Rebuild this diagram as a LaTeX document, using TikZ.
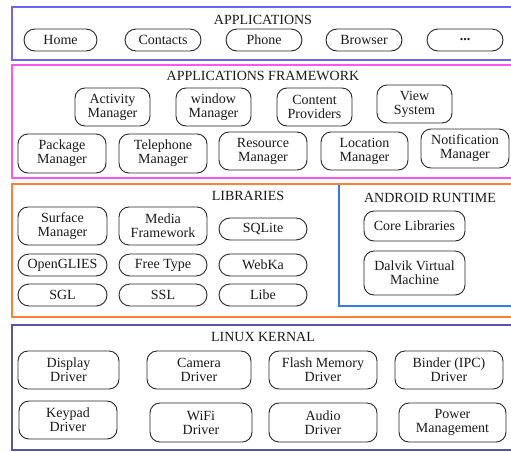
\documentclass[tikz,border=0pt]{standalone}
\usepackage{fontspec}
\setmainfont{Liberation Serif}
\definecolor{appblue}{HTML}{6666FF}
\definecolor{fwpink}{HTML}{FF55EE}
\definecolor{liborange}{HTML}{FF7F33}
\definecolor{rtblue}{HTML}{3377EE}
\definecolor{kernnavy}{HTML}{5555A0}
\tikzset{
  layer/.style={line width=1.4pt},
  mod/.style={draw=black!85, line width=0.9pt, rounded corners=10pt, align=center,
    inner sep=0pt, font=\fontsize{14}{14}\selectfont, text=black!90},
  pill/.style={mod, rounded corners=11pt, minimum height=22pt},
  ttl/.style={anchor=base, inner sep=0pt, font=\fontsize{14}{14}\selectfont, text=black!90}
}
\begin{document}
\begin{tikzpicture}[x=1pt,y=-1pt]
\useasboundingbox (0,0) rectangle (511,451);
% layers
\draw[layer, appblue] (12,7) rectangle (515,60);
\draw[layer, fwpink] (12,65) rectangle (515,178);
\draw[layer, rtblue] (339,184) rectangle (515,306);
\draw[layer, liborange] (12,184) rectangle (515,317);
\draw[layer, kernnavy] (12,325) rectangle (515,450);
% titles
\node[ttl] (tapp) at (263,24) {APPLICATIONS};
\node[ttl] (tfw) at (263,80) {APPLICATIONS FRAMEWORK};
\node[ttl] (tlib) at (248,200.5) {LIBRARIES};
\node[ttl] (trt) at (430,202.5) {ANDROID RUNTIME};
\node[ttl] (tker) at (263,341) {LINUX KERNAL};
% applications
\node[pill, minimum width=73pt] (home) at (60.5,40) {Home};
\node[pill, minimum width=76pt] (contacts) at (163,40) {Contacts};
\node[pill, minimum width=76pt] (phone) at (264,40) {Phone};
\node[pill, minimum width=76pt] (browser) at (364,40) {Browser};
\node[pill, minimum width=76pt] (dots) at (465,40) {\textbf{...}};
% framework row 1
\node[mod, minimum width=75pt, minimum height=38pt] (activity) at (112.5,107) {Activity\\Manager};
\node[mod, minimum width=75pt, minimum height=38pt] (window) at (213.5,107) {window\\Manager};
\node[mod, minimum width=75pt, minimum height=38pt] (content) at (314.5,107) {Content\\Providers};
\node[mod, minimum width=75pt, minimum height=38pt] (view) at (414.5,104) {View\\System};
% framework row 2
\node[mod, minimum width=88pt, minimum height=39pt] (package) at (62,153.5) {Package\\Manager};
\node[mod, minimum width=88pt, minimum height=39pt] (telephone) at (163,153.5) {Telephone\\Manager};
\node[mod, minimum width=88pt, minimum height=38pt] (resource) at (263,151) {Resource\\Manager};
\node[mod, minimum width=87pt, minimum height=38pt] (location) at (364.5,151) {Location\\Manager};
\node[mod, minimum width=88pt, minimum height=39pt] (notification) at (465,148.5) {Notification\\Manager};
% libraries
\node[mod, minimum width=89pt, minimum height=38pt] (surface) at (62.5,226) {Surface\\Manager};
\node[mod, minimum width=88pt, minimum height=38pt] (media) at (163,226) {Media\\Framework};
\node[pill, minimum width=88pt] (sqlite) at (263,229) {SQLite};
\node[pill, minimum width=89pt] (opengl) at (62.5,265) {OpenGLIES};
\node[pill, minimum width=88pt] (freetype) at (163,265) {Free Type};
\node[pill, minimum width=88pt] (webka) at (263,265) {WebKa};
\node[pill, minimum width=89pt] (sgl) at (62.5,295) {SGL};
\node[pill, minimum width=88pt] (ssl) at (163,295) {SSL};
\node[pill, minimum width=88pt] (libe) at (263,295) {Libe};
% runtime
\node[mod, minimum width=101pt, minimum height=30pt] (core) at (414.5,226) {Core Libraries};
\node[mod, minimum width=101pt, minimum height=44pt] (dalvik) at (414.5,273) {Dalvik Virtual\\Machine};
% kernel row 1
\node[mod, minimum width=101pt, minimum height=38pt] (display) at (68.5,370) {Display\\Driver};
\node[mod, minimum width=104pt, minimum height=38pt] (camera) at (199,370) {Camera\\Driver};
\node[mod, minimum width=108pt, minimum height=38pt] (flash) at (323,370) {Flash Memory\\Driver};
\node[mod, minimum width=108pt, minimum height=38pt] (binder) at (449,370) {Binder (IPC)\\Driver};
% kernel row 2
\node[mod, minimum width=98pt, minimum height=38pt] (keypad) at (68,420) {Keypad\\Driver};
\node[mod, minimum width=102pt, minimum height=39pt] (wifi) at (201,422.5) {WiFi\\Driver};
\node[mod, minimum width=108pt, minimum height=39pt] (audio) at (323,422.5) {Audio\\Driver};
\node[mod, minimum width=107pt, minimum height=39pt] (power) at (452.5,422.5) {Power\\Management};
\end{tikzpicture}
\end{document}
